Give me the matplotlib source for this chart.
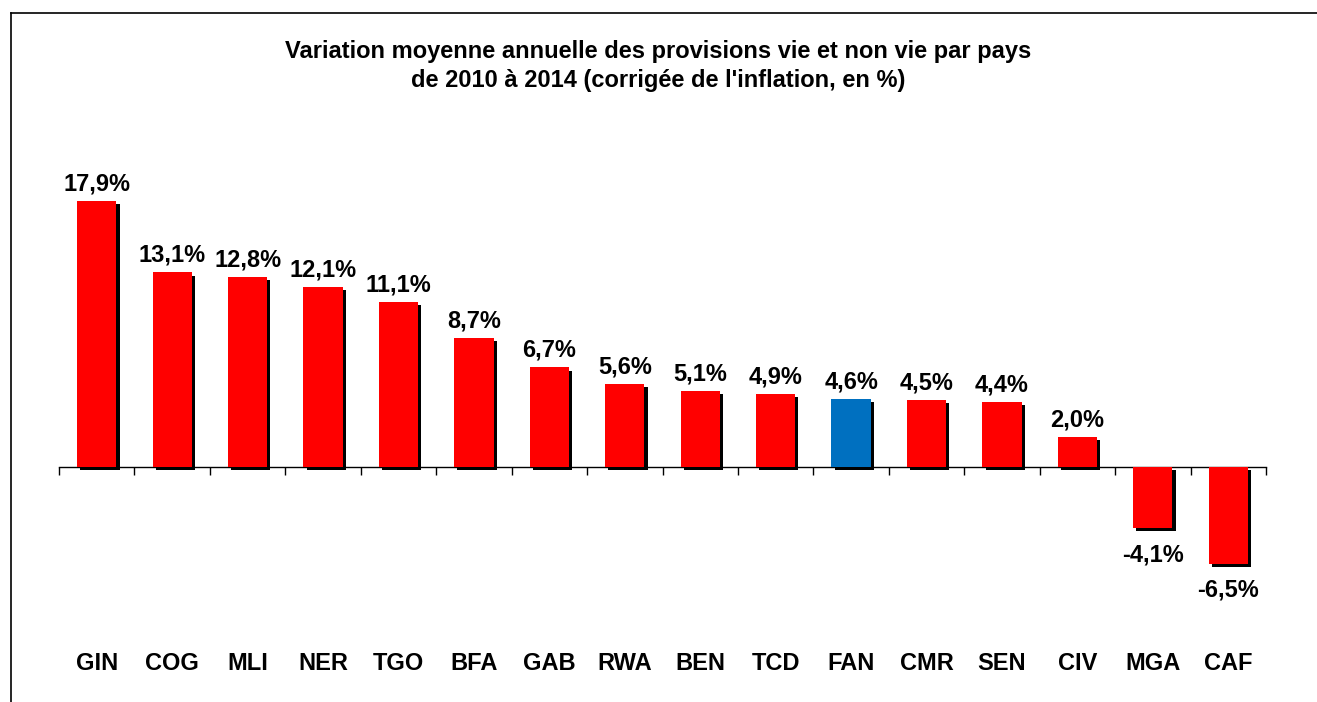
import matplotlib
matplotlib.use("Agg")
import matplotlib.pyplot as plt
import matplotlib.patheffects as pe
import matplotlib.transforms as mtransforms
from matplotlib.lines import Line2D

plt.rcParams['font.family'] = ['Liberation Sans', 'DejaVu Sans']

# données par pays
pays = ['GIN', 'COG', 'MLI', 'NER', 'TGO', 'BFA', 'GAB', 'RWA', 'BEN', 'TCD',
        'FAN', 'CMR', 'SEN', 'CIV', 'MGA', 'CAF']
variation = [17.9, 13.1, 12.8, 12.1, 11.1, 8.7, 6.7, 5.6, 5.1, 4.9,
             4.6, 4.5, 4.4, 2.0, -4.1, -6.5]
couleurs = ['#0070C0' if p == 'FAN' else '#FF0000' for p in pays]

W, H = 1317, 702
fig = plt.figure(figsize=(W / 100, H / 100), dpi=100)
ax = fig.add_axes([59 / W, 1 - 585.9 / H, (1266 - 59) / W, (585.9 - 169.8) / H])

x = range(len(pays))
bars = ax.bar(x, variation, width=0.52, color=couleurs, zorder=3)
for b in bars:
    b.set_path_effects([pe.SimplePatchShadow(offset=(2.3, -2.3), shadow_rgbFace='black', alpha=1.0),
                        pe.Normal()])

# étiquettes de valeur
for i, v in enumerate(variation):
    txt = f"{v:.1f}%".replace('.', ',')
    if v >= 0:
        ax.annotate(txt, (i, v), xytext=(0, 4), textcoords='offset points',
                    ha='center', va='bottom', fontsize=17, fontweight='bold')
    else:
        ax.annotate(txt, (i, v), xytext=(0, -11), textcoords='offset points',
                    ha='center', va='top', fontsize=17, fontweight='bold')

ax.set_xlim(-0.5, len(pays) - 0.5)
ax.set_ylim(-8, 20)
for s in ['top', 'right', 'left']:
    ax.spines[s].set_visible(False)
ax.spines['bottom'].set_position(('data', 0))
ax.spines['bottom'].set_linewidth(1.0)
ax.set_yticks([])
ax.set_xticks([i - 0.5 for i in range(len(pays) + 1)])
ax.set_xticklabels([])
ax.tick_params(axis='x', direction='out', length=6, width=1.0)

# noms des pays en bas
trans = mtransforms.blended_transform_factory(ax.transData, fig.transFigure)
for i, p in enumerate(pays):
    ax.text(i, 1 - 663 / H, p, transform=trans, ha='center', va='center',
            fontsize=17, fontweight='bold')

fig.text(0.5, 1 - 66 / H,
         "Variation moyenne annuelle des provisions vie et non vie par pays\n"
         "de 2010 à 2014 (corrigée de l'inflation, en %)",
         ha='center', va='center', fontsize=17, fontweight='bold', linespacing=1.3)

# cadre
fig.add_artist(Line2D([10.5 / W, 10.5 / W], [0, 1 - 12.5 / H], transform=fig.transFigure,
                      color='black', linewidth=1.2))
fig.add_artist(Line2D([10.5 / W, 1], [1 - 12.5 / H, 1 - 12.5 / H], transform=fig.transFigure,
                      color='black', linewidth=1.2))

fig.savefig('out.png', dpi=100)
